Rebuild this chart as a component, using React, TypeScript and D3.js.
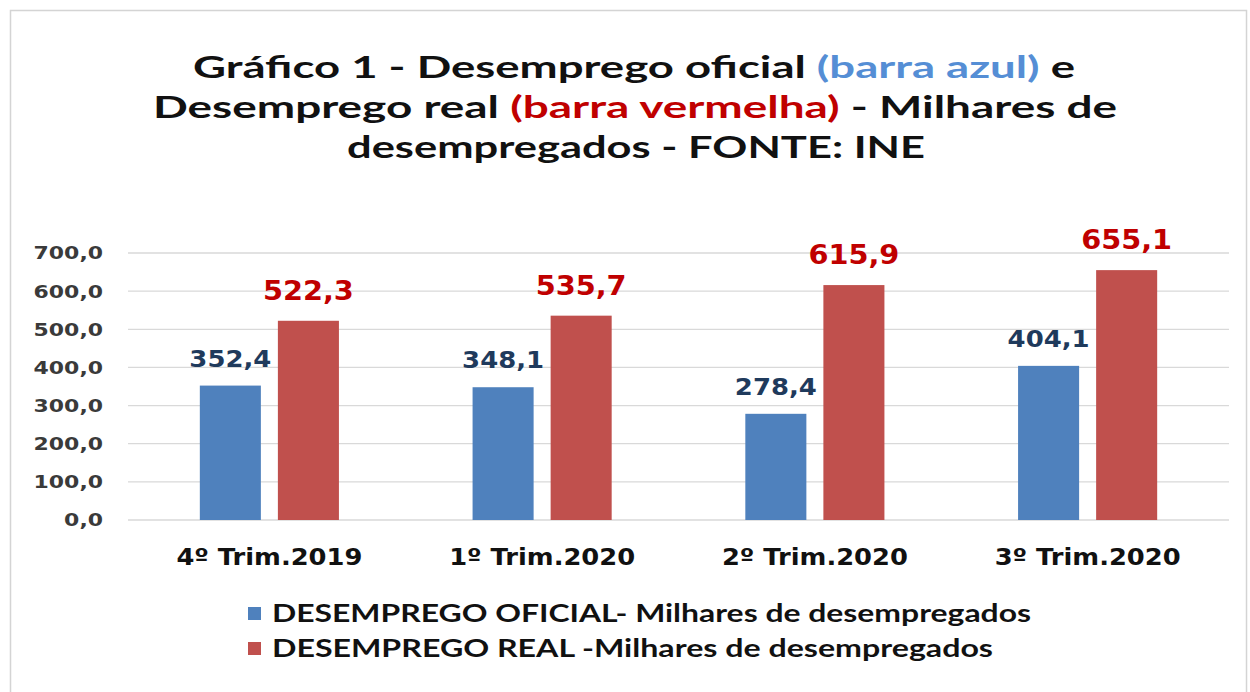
import React from "react";
import * as d3 from "d3";

const categories = ["4º Trim.2019", "1º Trim.2020", "2º Trim.2020", "3º Trim.2020"];
const oficialValues = [352.4, 348.1, 278.4, 404.1];
const realValues = [522.3, 535.7, 615.9, 655.1];
const yTicks = [0, 100, 200, 300, 400, 500, 600, 700];
const seriesKeys = ["oficial", "real"];
const legendLabels = [
  "DESEMPREGO OFICIAL- Milhares de desempregados",
  "DESEMPREGO REAL -Milhares de desempregados",
];

const W = 1250;
const H = 692;
const BLUE = "#4F81BD";
const RED = "#C0504D";
const fmt = (v: number) => v.toFixed(1).replace(".", ",");

export default function App() {
  const x0 = d3.scaleBand<string>().domain(categories).range([133, 1224]).paddingInner(0.49).paddingOuter(0.245);
  const x1 = d3.scaleBand<string>().domain(seriesKeys).range([0, x0.bandwidth()]).paddingInner(0.218);
  const y = d3.scaleLinear().domain([0, 700]).range([520, 253]);

  const labelFont = "'DejaVu Sans', Verdana, sans-serif";
  const titleFont = "Lato, 'Open Sans', sans-serif";

  return (
    <svg width={W} height={H} style={{ position: "absolute", left: 0, top: 0, background: "#fff" }}>
      <rect x={0} y={0} width={W} height={H} fill="#fff" />
      <rect x={10.5} y={10.5} width={1236} height={720} fill="#fff" stroke="#D4D4D4" strokeWidth={1.5} />

      {/* Title */}
      <g fontFamily={titleFont} fontWeight={700} fontSize={31} fill="#111">
        <text x={193} y={78} textLength={882} lengthAdjust="spacingAndGlyphs">
          Gráfico 1 - Desemprego oficial <tspan fill="#558ED5">(barra azul)</tspan> e
        </text>
        <text x={153} y={118} textLength={964} lengthAdjust="spacingAndGlyphs">
          Desemprego real <tspan fill="#C00000">(barra vermelha)</tspan> - Milhares de
        </text>
        <text x={347} y={158} textLength={578} lengthAdjust="spacingAndGlyphs">
          desempregados - FONTE: INE
        </text>
      </g>

      {/* Gridlines */}
      <g>
        {yTicks.map((t) => (
          <line key={t} x1={128} x2={1229} y1={y(t)} y2={y(t)} stroke="#D9D9D9" strokeWidth={1.3} />
        ))}
      </g>

      {/* Y tick labels */}
      <g fontFamily={labelFont} fontWeight={700} fontSize={18} fill="#3A3A3A">
        {yTicks.map((t) => (
          <text key={t} transform={`translate(103,${y(t)}) scale(1.22,1)`} textAnchor="end" dy="0.36em">
            {fmt(t)}
          </text>
        ))}
      </g>

      {/* Bars */}
      {categories.map((c, i) => {
        const gx = x0(c) as number;
        const bx = gx + (x1("oficial") as number);
        const rx = gx + (x1("real") as number);
        const bw = x1.bandwidth();
        const vo = oficialValues[i];
        const vr = realValues[i];
        return (
          <g key={c}>
            <rect x={bx} y={y(vo)} width={bw} height={y(0) - y(vo)} fill={BLUE} />
            <rect x={rx} y={y(vr)} width={bw} height={y(0) - y(vr)} fill={RED} />
            <text
              x={bx + bw / 2}
              y={y(vo) - 19}
              textAnchor="middle"
              fontFamily={labelFont}
              fontWeight={700}
              fontSize={23}
              fill="#1F3A5C"
              textLength={82}
              lengthAdjust="spacingAndGlyphs"
            >
              {fmt(vo)}
            </text>
            <text
              x={rx + bw / 2}
              y={y(vr) - 21}
              textAnchor="middle"
              fontFamily={labelFont}
              fontWeight={700}
              fontSize={27}
              fill="#C00000"
              textLength={91}
              lengthAdjust="spacingAndGlyphs"
            >
              {fmt(vr)}
            </text>
            <text
              x={gx + x0.bandwidth() / 2}
              y={565}
              textAnchor="middle"
              fontFamily={labelFont}
              fontWeight={700}
              fontSize={23}
              fill="#111"
              textLength={186}
              lengthAdjust="spacingAndGlyphs"
            >
              {c}
            </text>
          </g>
        );
      })}

      {/* Legend */}
      <g fontFamily={titleFont} fontWeight={700} fontSize={24} fill="#111">
        <rect x={248} y={607} width={13} height={13} fill={BLUE} />
        <text x={272} y={622} textLength={759} lengthAdjust="spacingAndGlyphs">
          {legendLabels[0]}
        </text>
        <rect x={248} y={642} width={13} height={13} fill={RED} />
        <text x={272} y={657} textLength={721} lengthAdjust="spacingAndGlyphs">
          {legendLabels[1]}
        </text>
      </g>
    </svg>
  );
}
